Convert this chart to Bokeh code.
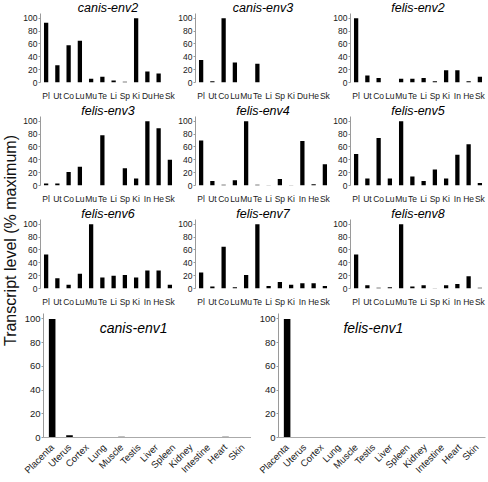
import math
from bokeh.plotting import figure
from bokeh.layouts import row, column
from bokeh.models import Range1d, FactorRange, FixedTicker, Label
from bokeh.core.properties import value
from bokeh.embed import file_html
from bokeh.resources import INLINE

FONT = "Liberation Sans"

canis_tissues = ["Pl", "Ut", "Co", "Lu", "Mu", "Te", "Li", "Sp", "Ki", "Du", "He", "Sk"]
felis_tissues = ["Pl", "Ut", "Co", "Lu", "Mu", "Te", "Li", "Sp", "Ki", "In", "He", "Sk"]
full_tissues = ["Placenta", "Uterus", "Cortex", "Lung", "Muscle", "Testis", "Liver",
                "Spleen", "Kidney", "Intestine", "Heart", "Skin"]
y_ticks = [0, 20, 40, 60, 80, 100]

canis_env2 = [93, 27, 58, 65, 6, 9, 3, 1, 100, 17, 14, 0]
canis_env3 = [35, 2, 100, 31, 0, 29, 0, 0, 0, 0, 0, 0]
felis_env2 = [100, 11, 7, 0, 6, 6, 7, 2, 19, 19, 2, 9]
felis_env3 = [3, 3, 21, 29, 0, 78, 0, 27, 11, 100, 89, 40]
felis_env4 = [70, 7, 1, 8, 100, 1, 0.5, 10, 0.5, 69, 2, 33]
felis_env5 = [49, 11, 74, 11, 100, 14, 7, 25, 11, 48, 64, 4]
felis_env6 = [53, 16, 6, 23, 100, 17, 20, 21, 17, 28, 28, 6]
felis_env7 = [25, 3, 65, 2, 21, 100, 4, 10, 6, 8, 8, 4]
felis_env8 = [53, 5, 1, 2, 100, 3, 5, 0.5, 5, 7, 19, 1]
canis_env1 = [100, 2, 0.4, 0.5, 0.6, 0.3, 0, 0, 0.4, 0, 0.7, 0.4]
felis_env1 = [100, 0.5, 0.5, 0, 0.5, 0.5, 0, 0, 0, 0, 0, 0]

AXIS_GREY = "#9a9a9a"
LABEL_COL = "#1a1a1a"


def style_common(p):
    p.grid.visible = False
    p.outline_line_color = None
    p.background_fill_color = "white"
    p.border_fill_color = "white"
    p.yaxis.ticker = FixedTicker(ticks=y_ticks)
    p.yaxis.axis_line_color = AXIS_GREY
    p.yaxis.major_tick_line_color = AXIS_GREY
    p.yaxis.major_tick_out = 2
    p.yaxis.major_tick_in = 0
    p.yaxis.minor_tick_line_color = None
    p.yaxis.major_label_standoff = 1
    p.yaxis.major_label_text_font = FONT
    p.yaxis.major_label_text_color = LABEL_COL
    p.xaxis.major_tick_line_color = None
    p.xaxis.minor_tick_line_color = None
    p.xaxis.major_label_standoff = 2
    p.xaxis.major_label_text_font = FONT
    p.xaxis.major_label_text_color = LABEL_COL


def small_panel(name, tissues, values, right_border=0):
    left = 18
    fw = 137
    p = figure(width=left + fw + right_border, height=103,
               x_range=FactorRange(*tissues, range_padding=0),
               y_range=Range1d(0, 127.5),
               output_backend="svg", toolbar_location=None,
               min_border_left=left, min_border_right=right_border,
               min_border_top=0, min_border_bottom=15)
    p.vbar(x=tissues, top=values, width=0.38, fill_color="black", line_color=None)
    p.text(x=[6], y=[116], text=[name], text_font=value(FONT), text_font_style="italic",
           text_font_size="12.5px", text_align="center", text_baseline="middle",
           text_color="black")
    style_common(p)
    p.yaxis.bounds = (0, 108)
    p.yaxis.major_label_text_font_size = "8.5px"
    p.xaxis.axis_line_color = None
    p.xaxis.major_label_text_font_size = "8.5px"
    return p


def big_panel(name, values, left, fw, right_border, title_x):
    p = figure(width=left + fw + right_border, height=173,
               x_range=FactorRange(*full_tissues, range_padding=0),
               y_range=Range1d(0, 108),
               output_backend="svg", toolbar_location=None,
               min_border_left=left, min_border_right=right_border,
               min_border_top=0, min_border_bottom=41)
    p.vbar(x=full_tissues, top=values, width=0.38, fill_color="black", line_color=None)
    p.text(x=[title_x], y=[92], text=[name], text_font=value(FONT), text_font_style="italic",
           text_font_size="14px", text_align="center", text_baseline="middle",
           text_color="black")
    style_common(p)
    p.yaxis.bounds = (0, 105)
    p.yaxis.major_label_text_font_size = "9.5px"
    p.xaxis.axis_line_color = "#aaaaaa"
    p.xaxis.major_label_text_font_size = "9.5px"
    p.xaxis.major_label_orientation = math.pi / 4
    return p


# y-axis label column
lab = figure(width=20, height=482, x_range=Range1d(0, 1), y_range=Range1d(0, 1),
             x_axis_location=None, y_axis_location=None,
             output_backend="svg", toolbar_location=None,
             min_border_left=0, min_border_right=0, min_border_top=0, min_border_bottom=0)
lab.grid.visible = False
lab.outline_line_color = None
lab.add_layout(Label(x=0.5, y=0.502, text="Transcript level (% maximum)", angle=math.pi / 2,
                     text_align="center", text_baseline="middle", text_font=FONT,
                     text_font_size="16px", text_color="#111111"))

r1 = row(small_panel("canis-env2", canis_tissues, canis_env2),
         small_panel("canis-env3", canis_tissues, canis_env3),
         small_panel("felis-env2", felis_tissues, felis_env2, right_border=3))
r2 = row(small_panel("felis-env3", felis_tissues, felis_env3),
         small_panel("felis-env4", felis_tissues, felis_env4),
         small_panel("felis-env5", felis_tissues, felis_env5, right_border=3))
r3 = row(small_panel("felis-env6", felis_tissues, felis_env6),
         small_panel("felis-env7", felis_tissues, felis_env7),
         small_panel("felis-env8", felis_tissues, felis_env8, right_border=3))
r4 = row(big_panel("canis-env1", canis_env1, 23, 208, 0, 5.2),
         big_panel("felis-env1", felis_env1, 27, 207, 3, 5.5))

layout = row(lab, column(r1, r2, r3, r4))

open("out.html", "w").write(file_html(layout, INLINE))
